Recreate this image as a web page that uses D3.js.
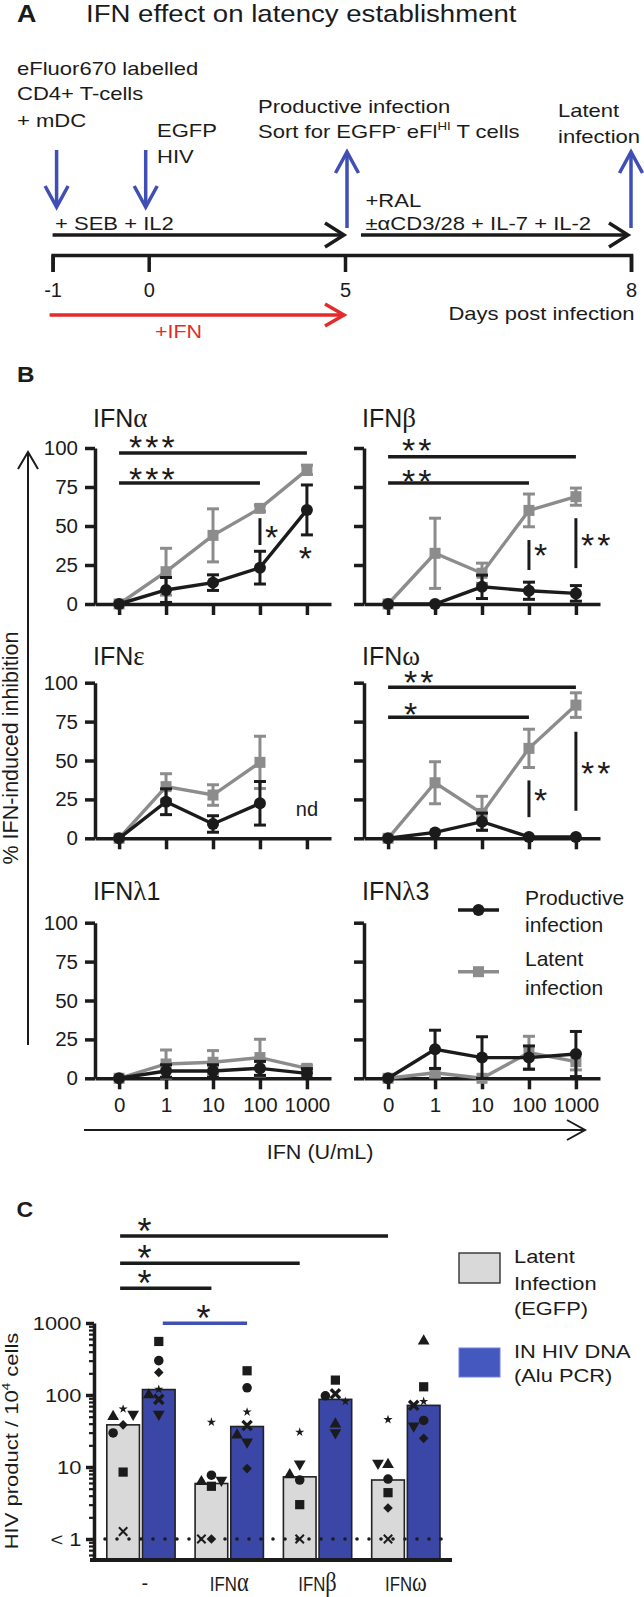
<!DOCTYPE html>
<html><head><meta charset="utf-8">
<script src="https://cdn.jsdelivr.net/npm/d3@7"></script>
<style>
body{margin:0;background:#fff}
svg{display:block}
text{font-family:"Liberation Sans",Arial,Helvetica,sans-serif}
</style>
</head><body>
<svg id="c" width="644" height="1597"></svg>
<script>
// ---------------- DATA ----------------
const days = [-1, 0, 5, 8];
const doses = ["0", "1", "10", "100", "1000"];
const yTicksB = [0, 25, 50, 75, 100];

const alphaProd = [0, 9, 13.7, 23.3, 60.3];
const alphaProdErr = [0, 8, 5, 10.5, 16];
const alphaLat = [0, 20.7, 44, 61.3, 86];
const alphaLatErr = [0, 15, 17, 2, 3];
const betaProd = [0, 0, 11, 8.5, 6.8];
const betaProdErr = [0, 0, 7.5, 5.5, 5];
const betaLat = [0, 32.5, 19.7, 60, 68.8];
const betaLatErr = [0, 22.5, 6.5, 10.5, 5.5];
const epsilonProd = [0, 23.5, 9.2, 22.5, null];
const epsilonProdErr = [0, 8.3, 5.3, 14, null];
const epsilonLat = [0, 33.2, 27.8, 48.8, null];
const epsilonLatErr = [0, 8.3, 6.6, 16.8, null];
const omegaProd = [0, 3.8, 10.7, 0.9, 0.9];
const omegaProdErr = [0, 0, 5.5, 0, 0];
const omegaLat = [0, 35.7, 16, 57.8, 85.6];
const omegaLatErr = [0, 13.5, 11, 12.3, 7.9];
const lambda1Prod = [0, 4.7, 4.7, 6.4, 3.2];
const lambda1ProdErr = [0, 4, 4, 4.5, 3];
const lambda1Lat = [0, 9.2, 10.3, 13.3, 6.4];
const lambda1LatErr = [0, 9, 7.5, 11.8, 2];
const lambda3Prod = [0, 18.6, 13.3, 13.3, 15.6];
const lambda3ProdErr = [0, 12.3, 13.4, 7.5, 14.5];
const lambda3Lat = [0, 3.6, 0, 16.5, 10.7];
const lambda3LatErr = [0, 2.8, 0, 10.5, 5.3];

const groupsC = ["-", "α", "β", "ω"];
const latentBar = [38.5, 5.9, 7.3, 6.6];
const dnaBar = [119, 36.5, 87, 71.8];
const donors = ["up", "down", "circle", "square", "diamond", "cross", "star"];
const latentNone = [52, 52, 29.7, 8.5, 38.5, 1.27, 64];
const latentAlpha = [6.5, 6.3, 7.7, 5.4, 1, 1, 42];
const latentBeta = [8.1, 10.6, 6.6, 3.0, null, 1, 30.5];
const latentOmega = [11.2, 10.9, 6.8, 4.4, 2.7, 1, 45.6];
const dnaNone = [104, 52, 300, 554, 206, 87, 120];
const dnaAlpha = [28.8, 21.5, 126, 217, 9.5, 37.7, 58];
const dnaBeta = [41, 28.8, 97.6, 161, null, 104, 81.5];
const dnaOmega = [584, 35.8, 44.3, 130, 25, 72, 81.5];
const yTicksC = [1, 10, 100, 1000];
const yTickLabelsC = ["< 1", "10", "100", "1000"];

// ---------------- STYLE / HELPERS ----------------
const INK = "#1b1b1b", GRAY = "#8c8c8c", BLUE = "#3a47a6", BLUEA = "#3f4fb3", RED = "#e32b2b";
const LBAR = "#d9d9d9", BLEG = "#4458c0";
const SERIF = "'Liberation Serif','DejaVu Serif',serif";
const svg = d3.select("#c");

function T(parent, x, y, parts, o = {}) {
  const fs = o.fs || 20;
  let tr = `translate(${x},${y})`;
  if (o.rot) tr += ` rotate(${o.rot})`;
  if (o.sx && o.sx !== 1) tr += ` scale(${o.sx},1)`;
  const t = parent.append("text").attr("transform", tr).attr("font-size", fs)
    .attr("text-anchor", o.anchor || "start").attr("fill", o.fill || INK);
  if (o.weight) t.attr("font-weight", o.weight);
  if (o.ls != null) t.attr("letter-spacing", o.ls);
  let shift = 0;
  (Array.isArray(parts) ? parts : [parts]).forEach(p => {
    if (typeof p === "string") p = { t: p };
    const s = t.append("tspan").text(p.t);
    if (p.serif) s.attr("font-family", SERIF);
    if (p.fs) s.attr("font-size", p.fs);
    if (p.sup) {
      s.attr("font-size", fs * 0.6).attr("dy", -fs * 0.4);
      shift = fs * 0.4;
    } else if (shift) {
      s.attr("dy", shift);
      shift = 0;
    }
  });
  return t;
}

function arrow(g, x1, y1, x2, y2, col, w, hl, hw) {
  const a = Math.atan2(y2 - y1, x2 - x1);
  const bx = x2 - hl * Math.cos(a), by = y2 - hl * Math.sin(a);
  const px = -Math.sin(a) * hw, py = Math.cos(a) * hw;
  g.append("line").attr("x1", x1).attr("y1", y1).attr("x2", x2 - Math.cos(a) * w * 0.4).attr("y2", y2 - Math.sin(a) * w * 0.4)
    .attr("stroke", col).attr("stroke-width", w);
  g.append("path").attr("d", `M${bx + px},${by + py}L${x2},${y2}L${bx - px},${by - py}`)
    .attr("fill", "none").attr("stroke", col).attr("stroke-width", w).attr("stroke-linejoin", "miter");
}

function stars(g, x, yc, s, anchor, fs, col) {
  return T(g, x, yc + 0.57 * fs, s, { fs: fs, anchor: anchor, ls: 3, fill: col || INK });
}

// ---------------- PANEL A ----------------
const A = svg.append("g");
T(A, 17, 22, "A", { fs: 24, weight: "bold", sx: 1.12 });
T(A, 86, 22, "IFN effect on latency establishment", { fs: 24, sx: 1.15 });

const dayX = d3.scaleLinear().domain(days).range([52.6, 148.7, 345, 631]);
const ax = A.append("g").attr("transform", "translate(0,255)")
  .call(d3.axisBottom(dayX).tickValues(days).tickSize(17).tickSizeOuter(17).tickPadding(11).tickFormat(d => String(d)));
ax.attr("font-family", null);
ax.selectAll("path,line").attr("stroke", INK).attr("stroke-width", 3.5);
ax.selectAll("text").attr("font-size", 20).attr("fill", INK);

const fsA = 19, sxA = 1.16;
T(A, 17, 75, "eFluor670 labelled", { fs: fsA, sx: sxA });
T(A, 17, 100, "CD4+ T-cells", { fs: fsA, sx: sxA });
T(A, 17, 127, "+ mDC", { fs: fsA, sx: sxA });
T(A, 157, 137, "EGFP", { fs: fsA, sx: sxA });
T(A, 157, 163, "HIV", { fs: fsA, sx: sxA });
T(A, 258, 113, "Productive infection", { fs: fsA, sx: sxA });
T(A, 258, 138, ["Sort for EGFP", { t: "-", sup: true }, " eFl", { t: "HI", sup: true }, " T cells"], { fs: fsA, sx: sxA });
T(A, 558, 117, "Latent", { fs: fsA, sx: sxA });
T(A, 558, 143, "infection", { fs: fsA, sx: sxA });
T(A, 55, 230, "+ SEB + IL2", { fs: fsA, sx: sxA });
T(A, 365.5, 207, "+RAL", { fs: fsA, sx: sxA });
T(A, 365.5, 230, "±αCD3/28 + IL-7 + IL-2", { fs: fsA, sx: sxA });
T(A, 634.5, 320, "Days post infection", { fs: fsA, sx: sxA, anchor: "end" });
T(A, 155, 338, "+IFN", { fs: fsA, sx: 1.13, fill: RED });

// arrows
arrow(A, dayX(-1) + 4, 150, dayX(-1) + 4, 207, BLUEA, 3.5, 21, 11.5);
arrow(A, dayX(0) - 3, 150, dayX(0) - 3, 207, BLUEA, 3.5, 21, 11.5);
arrow(A, dayX(5) + 2, 228, dayX(5) + 2, 152, BLUEA, 3.5, 21, 11.5);
arrow(A, dayX(8), 228, dayX(8), 152, BLUEA, 3.5, 21, 11.5);
arrow(A, dayX(-1), 235, dayX(5) - 1, 235, INK, 3.5, 19, 12);
arrow(A, dayX(5) + 16, 235, dayX(8) - 3, 235, INK, 3.5, 19, 12);
arrow(A, dayX(-1) - 3, 315, dayX(5) - 1, 315, RED, 3.5, 19, 11);

// ---------------- PANEL B ----------------
const B = svg.append("g");
T(B, 17, 382, "B", { fs: 22, weight: "bold", sx: 1.1 });

const rowsB = [{ top: 448, bot: 604, title: 427 }, { top: 682.7, bot: 838.3, title: 665 }, { top: 922.7, bot: 1078.3, title: 900 }];
const colsB = [95, 364];

const panelsB = [
  { g: "α", prod: alphaProd, pe: alphaProdErr, lat: alphaLat, le: alphaLatErr, r: 0, c: 0 },
  { g: "β", prod: betaProd, pe: betaProdErr, lat: betaLat, le: betaLatErr, r: 0, c: 1 },
  { g: "ε", prod: epsilonProd, pe: epsilonProdErr, lat: epsilonLat, le: epsilonLatErr, r: 1, c: 0 },
  { g: "ω", prod: omegaProd, pe: omegaProdErr, lat: omegaLat, le: omegaLatErr, r: 1, c: 1 },
  { g: "λ", n: "1", prod: lambda1Prod, pe: lambda1ProdErr, lat: lambda1Lat, le: lambda1LatErr, r: 2, c: 0 },
  { g: "λ", n: "3", prod: lambda3Prod, pe: lambda3ProdErr, lat: lambda3Lat, le: lambda3LatErr, r: 2, c: 1 }
];

// significance annotations (layout, in data units)
const annB = {
  "α": { h: [{ b: "1000", v: 96.8, s: "***", sv: 105.1, dx: 10 }, { b: "100", v: 77.6, s: "***", sv: 85, dx: 10 }],
         vb: [{ at: "100", v1: 55, v2: 37.8, s: "*", sv: 47.4 }],
         free: [{ at: "1000", s: "*", sv: 34.2 }] },
  "β": { h: [{ b: "1000", v: 94.4, s: "**", sv: 103.2, dx: 14 }, { b: "100", v: 77.6, s: "**", sv: 83.3, dx: 14 }],
         vb: [{ at: "100", v1: 41, v2: 21.8, s: "*", sv: 35.9 }, { at: "1000", v1: 55, v2: 23, s: "**", sv: 42.3 }] },
  "ω": { h: [{ b: "1000", v: 97, s: "**", sv: 105, dx: 16 }, { b: "100", v: 77.8, s: "*", sv: 84.6, dx: 16 }],
         vb: [{ at: "100", v1: 37.2, v2: 13.6, s: "*", sv: 29.3 }, { at: "1000", v1: 68.5, v2: 17.7, s: "**", sv: 46.5 }] },
  "ε": { nd: { at: "1000", v: 14.3 } }
};

panelsB.forEach(p => {
  const row = rowsB[p.r], axX = colsB[p.c];
  const g = B.append("g");
  const x = d3.scalePoint().domain(doses).range([axX, axX + 236]).padding(0.513);
  const y = d3.scaleLinear().domain([0, 100]).range([row.bot, row.top]);

  // title
  const parts = ["IFN", { t: p.g, serif: true, fs: 27 }];
  if (p.n) parts.push(p.n);
  T(g, axX - 2, row.title, parts, { fs: 25 });

  // axes
  const ya = g.append("g").attr("transform", `translate(${axX},0)`)
    .call(d3.axisLeft(y).tickValues(yTicksB).tickSize(10).tickSizeOuter(0).tickPadding(7)
      .tickFormat(p.c === 0 ? d => String(d) : () => ""));
  const xa = g.append("g").attr("transform", `translate(0,${row.bot})`)
    .call(d3.axisBottom(x).tickSize(11).tickSizeOuter(0).tickPadding(8)
      .tickFormat(p.r === 2 ? d => d : () => ""));
  [ya, xa].forEach(a => {
    a.attr("font-family", null);
    a.selectAll("path,line").attr("stroke", INK).attr("stroke-width", 3.5);
    a.selectAll("text").attr("font-size", 20.5).attr("fill", INK);
  });

  // series: latent (gray) first then productive (black)
  const series = [
    { v: p.lat, e: p.le, col: GRAY, shape: "square" },
    { v: p.prod, e: p.pe, col: INK, shape: "circle" }
  ];
  series.forEach(s => {
    const pts = doses.map((d, i) => ({ d, v: s.v[i], e: s.e[i] })).filter(d => d.v != null);
    g.append("path").datum(pts)
      .attr("d", d3.line().x(d => x(d.d)).y(d => y(d.v)))
      .attr("fill", "none").attr("stroke", s.col).attr("stroke-width", 3.4);
    pts.filter(d => d.e > 0).forEach(d => {
      const xx = x(d.d), y1 = y(d.v + d.e), y2 = y(d.v - d.e);
      g.append("line").attr("x1", xx).attr("x2", xx).attr("y1", y1).attr("y2", y2).attr("stroke", s.col).attr("stroke-width", 3);
      [y1, y2].forEach(yy => g.append("line").attr("x1", xx - 6).attr("x2", xx + 6).attr("y1", yy).attr("y2", yy)
        .attr("stroke", s.col).attr("stroke-width", 3));
    });
    pts.forEach(d => {
      if (s.shape === "circle") g.append("circle").attr("cx", x(d.d)).attr("cy", y(d.v)).attr("r", 6).attr("fill", s.col);
      else g.append("rect").attr("x", x(d.d) - 5.5).attr("y", y(d.v) - 5.5).attr("width", 11).attr("height", 11).attr("fill", s.col);
    });
  });

  // annotations
  const an = annB[p.g];
  if (an && !p.n) {
    (an.h || []).forEach(h => {
      g.append("line").attr("x1", x("0")).attr("x2", x(h.b)).attr("y1", y(h.v)).attr("y2", y(h.v))
        .attr("stroke", INK).attr("stroke-width", 3.5);
      stars(g, x("0") + h.dx, y(h.sv), h.s, "start", 34);
    });
    (an.vb || []).forEach(v => {
      g.append("line").attr("x1", x(v.at)).attr("x2", x(v.at)).attr("y1", y(v.v1)).attr("y2", y(v.v2))
        .attr("stroke", INK).attr("stroke-width", 3);
      stars(g, x(v.at) + 5, y(v.sv), v.s, "start", 34);
    });
    (an.free || []).forEach(f => stars(g, x(f.at), y(f.sv), f.s, "middle", 34));
    if (an.nd) T(g, x(an.nd.at), y(an.nd.v), "nd", { fs: 20, anchor: "middle" });
  }
});

// y-axis label + arrows for panel B
T(B, 18, 748, "% IFN-induced inhibition", { fs: 21.5, rot: -90, anchor: "middle" });
arrow(B, 28, 1045, 28, 452, INK, 2, 17, 10);
arrow(B, 84, 1130, 585, 1130, INK, 2, 18, 10);
T(B, 320, 1159, "IFN (U/mL)", { fs: 20, sx: 1.08, anchor: "middle" });

// legend B
const LB = B.append("g");
LB.append("line").attr("x1", 458).attr("x2", 499).attr("y1", 910).attr("y2", 910).attr("stroke", INK).attr("stroke-width", 3.4);
LB.append("circle").attr("cx", 478.5).attr("cy", 910).attr("r", 6).attr("fill", INK);
LB.append("line").attr("x1", 458).attr("x2", 499).attr("y1", 971.7).attr("y2", 971.7).attr("stroke", GRAY).attr("stroke-width", 3.4);
LB.append("rect").attr("x", 473).attr("y", 966.2).attr("width", 11).attr("height", 11).attr("fill", GRAY);
T(LB, 525, 905, "Productive", { fs: 21 });
T(LB, 525, 932, "infection", { fs: 21 });
T(LB, 525, 966, "Latent", { fs: 21 });
T(LB, 525, 995, "infection", { fs: 21 });

// ---------------- PANEL C ----------------
const C = svg.append("g");
T(C, 16.4, 1217, "C", { fs: 22, weight: "bold", sx: 1.05 });

const axC = 94, botC = 1560;
const xC = d3.scaleBand().domain(groupsC).range([axC, 452.8]).paddingInner(0.2265).paddingOuter(0.145);
const subC = d3.scaleBand().domain(["latent", "dna"]).range([0, xC.bandwidth()]).paddingInner(0.085);
const yC = d3.scaleLog().domain([0.511, 1000]).range([botC, 1323]);

// bars
const barData = [];
groupsC.forEach((g, i) => {
  barData.push({ g, k: "latent", v: latentBar[i] });
  barData.push({ g, k: "dna", v: dnaBar[i] });
});
C.selectAll("rect.bar").data(barData).join("rect").attr("class", "bar")
  .attr("x", d => xC(d.g) + subC(d.k)).attr("width", subC.bandwidth())
  .attr("y", d => yC(d.v)).attr("height", d => botC - yC(d.v))
  .attr("fill", d => d.k === "latent" ? LBAR : BLUE)
  .attr("stroke", "#222").attr("stroke-width", 1.6);

// dotted detection limit
C.append("line").attr("x1", 105).attr("x2", 448).attr("y1", yC(1)).attr("y2", yC(1))
  .attr("stroke", INK).attr("stroke-width", 3.6).attr("stroke-linecap", "round").attr("stroke-dasharray", "0 12");

// points with simple dodge
const sets = [
  ["-", "latent", latentNone], ["α", "latent", latentAlpha], ["β", "latent", latentBeta], ["ω", "latent", latentOmega],
  ["-", "dna", dnaNone], ["α", "dna", dnaAlpha], ["β", "dna", dnaBeta], ["ω", "dna", dnaOmega]
];
function marker(g, type, x, y, bold) {
  const sym = {
    up: [d3.symbolTriangle, 60, 0], down: [d3.symbolTriangle, 60, 180], circle: [d3.symbolCircle, 72, 0],
    square: [d3.symbolSquare, 85, 0], diamond: [d3.symbolSquare, 46, 45], star: [d3.symbolStar, 26, 0]
  }[type];
  if (type === "cross") {
    const s = bold ? 4.6 : 4.2;
    g.append("path").attr("d", `M${x - s},${y - s}L${x + s},${y + s}M${x - s},${y + s}L${x + s},${y - s}`)
      .attr("stroke", INK).attr("stroke-width", bold ? 3.4 : 2).attr("fill", "none");
    return;
  }
  g.append("path").attr("d", d3.symbol(sym[0], sym[1])())
    .attr("transform", `translate(${x},${y + (type === "up" ? 1.2 : type === "down" ? -1.2 : 0)}) rotate(${sym[2]})`)
    .attr("fill", INK);
}
sets.forEach(([grp, k, vals]) => {
  const cx = xC(grp) + subC(k) + subC.bandwidth() / 2;
  const pts = donors.map((d, i) => ({ d, v: vals[i] })).filter(p => p.v != null)
    .map(p => ({ ...p, y: yC(p.v) })).sort((a, b) => a.y - b.y);
  const placed = [];
  const step = 10;
  pts.forEach(p => {
    const cands = [0, -1, 1, -2, 2];
    let dx = 0;
    for (const c of cands) {
      const tx = c * step;
      if (placed.every(q => Math.abs(q.y - p.y) >= 9.5 || Math.abs(q.dx - tx) >= 9.5)) { dx = tx; break; }
    }
    placed.push({ y: p.y, dx });
    marker(C, p.d, cx + dx, p.y, k === "dna");
  });
});

// axes C
const yaC = C.append("g").attr("transform", `translate(${axC},0)`)
  .call(d3.axisLeft(yC).tickValues(yTicksC).tickSize(8).tickSizeOuter(0).tickPadding(3)
    .tickFormat((d, i) => yTickLabelsC[i]));
yaC.attr("font-family", null);
yaC.selectAll("path,line").attr("stroke", INK).attr("stroke-width", 3.5);
yaC.selectAll("text").attr("font-size", 19).attr("fill", INK).attr("transform", "scale(1.15,1)");
const minor = [];
[0.1, 1, 10, 100].forEach(dec => d3.range(2, 10).forEach(m => { const v = dec * m; if (v > 0.55 && v < 1000) minor.push(v); }));
const ym = C.append("g").attr("transform", `translate(${axC},0)`)
  .call(d3.axisLeft(yC).tickValues(minor.filter(v => v !== 1 && v !== 10 && v !== 100)).tickSize(5).tickFormat(() => ""));
ym.select(".domain").remove();
ym.selectAll("line").attr("stroke", INK).attr("stroke-width", 2.2);

const xaC = C.append("g").attr("transform", `translate(0,${botC})`)
  .call(d3.axisBottom(xC).tickSize(0).tickFormat(() => ""));
xaC.select(".domain").attr("d", `M90,0H452`).attr("stroke", INK).attr("stroke-width", 4);
groupsC.forEach(g => {
  const cx = xC(g) + xC.bandwidth() / 2;
  if (g === "-") T(C, cx + 4, 1590, "-", { fs: 20, anchor: "middle" });
  else T(C, cx, 1591, ["IFN", { t: g, serif: true, fs: 28 }], { fs: 21, anchor: "middle", sx: 0.8 });
});

// y label C
T(C, 18, 1441, ["HIV product / 10", { t: "4", sup: true }, " cells"], { fs: 19, rot: -90, anchor: "middle", sx: 1.16 });

// significance C
const gc = g => xC(g) + subC("latent") + subC.bandwidth() / 2;
const bc = g => xC(g) + subC("dna") + subC.bandwidth() / 2;
[["ω", 1236], ["β", 1263.3], ["α", 1288.3]].forEach(([g, yy]) => {
  C.append("line").attr("x1", gc("-") - 3).attr("x2", gc(g)).attr("y1", yy).attr("y2", yy).attr("stroke", INK).attr("stroke-width", 3.5);
  stars(C, gc("-") + 23, yy - 13, "*", "middle", 36);
});
C.append("line").attr("x1", bc("-") + 4).attr("x2", bc("α")).attr("y1", 1323.3).attr("y2", 1323.3).attr("stroke", BLUEA).attr("stroke-width", 3.5);
stars(C, (bc("-") + bc("α")) / 2 + 2, 1310.7, "*", "middle", 36);

// legend C
C.append("rect").attr("x", 459).attr("y", 1253).attr("width", 41).attr("height", 30).attr("fill", LBAR).attr("stroke", "#333").attr("stroke-width", 1.4);
C.append("rect").attr("x", 459).attr("y", 1348).attr("width", 41).attr("height", 29).attr("fill", BLEG).attr("stroke", "#6f80d8").attr("stroke-width", 1);
T(C, 514, 1263, "Latent", { fs: 19, sx: 1.15 });
T(C, 514, 1290, "Infection", { fs: 19, sx: 1.15 });
T(C, 514, 1315, "(EGFP)", { fs: 19, sx: 1.15 });
T(C, 514, 1358, "IN HIV DNA", { fs: 19, sx: 1.15 });
T(C, 514, 1382, "(Alu PCR)", { fs: 19, sx: 1.15 });
</script>
</body></html>
